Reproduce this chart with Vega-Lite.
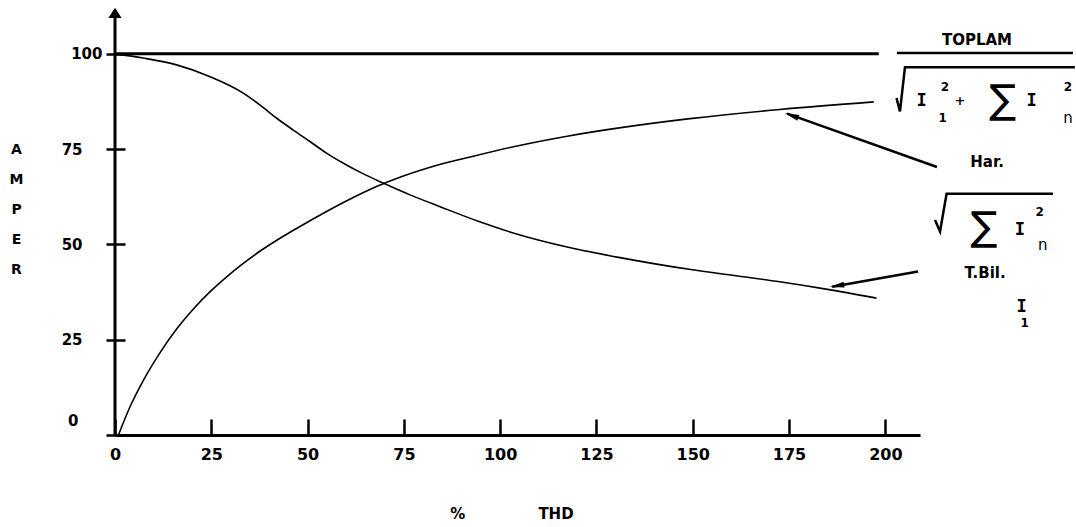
{
  "$schema": "https://vega.github.io/schema/vega-lite/v6.json",
  "width": 805,
  "height": 425,
  "autosize": {"type": "none"},
  "padding": {"left": 115, "top": 10, "right": 156, "bottom": 92},
  "background": "white",
  "config": {
    "view": {"stroke": null},
    "axis": {"labelFont": "DejaVu Sans", "labelFontWeight": "bold", "labelColor": "black", "tickColor": "black", "domainColor": "black", "titleColor": "black", "grid": false}
  },
  "resolve": {"axis": {"x": "independent", "y": "independent"}},
  "datasets": {
    "curves": [
      {"s": "Toplam", "thd": 0, "amp": 100}, {"s": "Toplam", "thd": 198.3, "amp": 100},
      {"s": "Har.", "thd": 0.9, "amp": 0}, {"s": "Har.", "thd": 3.9, "amp": 7.4}, {"s": "Har.", "thd": 7.3, "amp": 14.2}, {"s": "Har.", "thd": 11.7, "amp": 21.6}, {"s": "Har.", "thd": 16, "amp": 27.8}, {"s": "Har.", "thd": 20.3, "amp": 33}, {"s": "Har.", "thd": 24.7, "amp": 37.6}, {"s": "Har.", "thd": 29, "amp": 41.5}, {"s": "Har.", "thd": 33.3, "amp": 45}, {"s": "Har.", "thd": 37.6, "amp": 48.2}, {"s": "Har.", "thd": 42, "amp": 51.1}, {"s": "Har.", "thd": 50.6, "amp": 56.2}, {"s": "Har.", "thd": 59.3, "amp": 61}, {"s": "Har.", "thd": 67.9, "amp": 65.2}, {"s": "Har.", "thd": 81.6, "amp": 70.2}, {"s": "Har.", "thd": 92.5, "amp": 73}, {"s": "Har.", "thd": 104.7, "amp": 75.9}, {"s": "Har.", "thd": 117.4, "amp": 78.4}, {"s": "Har.", "thd": 131.8, "amp": 80.7}, {"s": "Har.", "thd": 149.3, "amp": 83}, {"s": "Har.", "thd": 172.6, "amp": 85.4}, {"s": "Har.", "thd": 197, "amp": 87.4},
      {"s": "T.Bil.", "thd": 0, "amp": 100}, {"s": "T.Bil.", "thd": 7.3, "amp": 98.9}, {"s": "T.Bil.", "thd": 16, "amp": 97.1}, {"s": "T.Bil.", "thd": 24.7, "amp": 94}, {"s": "T.Bil.", "thd": 33.3, "amp": 89.7}, {"s": "T.Bil.", "thd": 37.6, "amp": 86.6}, {"s": "T.Bil.", "thd": 42, "amp": 83.1}, {"s": "T.Bil.", "thd": 46.3, "amp": 80}, {"s": "T.Bil.", "thd": 50.6, "amp": 77}, {"s": "T.Bil.", "thd": 55, "amp": 73.9}, {"s": "T.Bil.", "thd": 59.3, "amp": 71.3}, {"s": "T.Bil.", "thd": 64.5, "amp": 68.5}, {"s": "T.Bil.", "thd": 69.6, "amp": 66.1}, {"s": "T.Bil.", "thd": 76.6, "amp": 63}, {"s": "T.Bil.", "thd": 84.4, "amp": 59.9}, {"s": "T.Bil.", "thd": 94.5, "amp": 56}, {"s": "T.Bil.", "thd": 104.7, "amp": 52.6}, {"s": "T.Bil.", "thd": 117.4, "amp": 49.3}, {"s": "T.Bil.", "thd": 131.8, "amp": 46.4}, {"s": "T.Bil.", "thd": 149.5, "amp": 43.4}, {"s": "T.Bil.", "thd": 161.2, "amp": 41.8}, {"s": "T.Bil.", "thd": 172.6, "amp": 40.2}, {"s": "T.Bil.", "thd": 185, "amp": 38.2}, {"s": "T.Bil.", "thd": 197.7, "amp": 35.9}
    ],
    "paths": [
      {"id": "bar", "o": 1, "x": 203, "y": 100.2}, {"id": "bar", "o": 2, "x": 248.7, "y": 100.2},
      {"id": "rad1", "o": 1, "x": 202.9, "y": 88.4}, {"id": "rad1", "o": 2, "x": 203.8, "y": 84.9}, {"id": "rad1", "o": 3, "x": 205.1, "y": 96.5}, {"id": "rad1", "o": 4, "x": 249.2, "y": 96.5},
      {"id": "rad2", "o": 1, "x": 212.9, "y": 56.4}, {"id": "rad2", "o": 2, "x": 214.2, "y": 53.4}, {"id": "rad2", "o": 3, "x": 215.9, "y": 63.3}, {"id": "rad2", "o": 4, "x": 243.5, "y": 63.3},
      {"id": "arrHar", "o": 1, "x": 213.4, "y": 70.3}, {"id": "arrHar", "o": 2, "x": 174.5, "y": 84.3},
      {"id": "arrTB", "o": 1, "x": 208.5, "y": 42.9}, {"id": "arrTB", "o": 2, "x": 186.2, "y": 38.9}
    ],
    "heads": [
      {"id": "arrHar", "x": 173.9, "y": 84.5},
      {"id": "arrTB", "x": 185.6, "y": 38.8},
      {"id": "yaxis", "x": 0, "y": 110.5}
    ],
    "ann": [
      {"r": "lbl", "t": "TOPLAM", "x": 223.8, "y": 103.7},
      {"r": "lbl", "t": "Har.", "x": 226.4, "y": 71.5},
      {"r": "lbl", "t": "T.Bil.", "x": 225.9, "y": 42.5},
      {"r": "lbl", "t": "%", "x": 89, "y": -20.7},
      {"r": "lbl", "t": "THD", "x": 114.5, "y": -20.7},
      {"r": "I", "t": "I", "x": 209.4, "y": 87.5},
      {"r": "I", "t": "I", "x": 238, "y": 87.5},
      {"r": "I", "t": "I", "x": 234.9, "y": 53.8},
      {"r": "I", "t": "I", "x": 235.4, "y": 33.7},
      {"r": "num", "t": "2", "x": 215.5, "y": 91.4},
      {"r": "num", "t": "1", "x": 214.9, "y": 83.2},
      {"r": "num", "t": "2", "x": 247.4, "y": 91.4},
      {"r": "num", "t": "2", "x": 240.1, "y": 58.6},
      {"r": "num", "t": "1", "x": 236.2, "y": 29.4},
      {"r": "n", "t": "n", "x": 247.4, "y": 83.2},
      {"r": "n", "t": "n", "x": 240.9, "y": 49.9},
      {"r": "plus", "t": "+", "x": 219.4, "y": 87.5},
      {"r": "sig", "t": "∑", "x": 230.5, "y": 87.7},
      {"r": "sig", "t": "∑", "x": 225.6, "y": 54.3}
    ]
  },
  "layer": [
    {
      "data": {"name": "curves"},
      "transform": [{"filter": "datum.s !== 'Toplam'"}],
      "mark": {"type": "line", "color": "black", "strokeWidth": 1.6, "interpolate": "monotone"},
      "encoding": {
        "x": {
          "field": "thd", "type": "quantitative",
          "scale": {"domain": [0, 209], "nice": false, "zero": false},
          "axis": {"values": [0, 25, 50, 75, 100, 125, 150, 175, 200], "tickSize": -16, "tickWidth": 2.5, "domainWidth": 3, "labelPadding": 27, "labelFontSize": 16, "labelFlush": false, "labelOverlap": false, "title": null}
        },
        "y": {
          "field": "amp", "type": "quantitative",
          "scale": {"domain": [0, 111.5], "nice": false},
          "axis": {
            "values": [0, 25, 50, 75, 100], "offset": -10, "tickSize": 19, "tickWidth": 2.5, "domain": false,
            "labelFontSize": 15, "labelFlush": false, "labelOverlap": false,
            "labelPadding": {"condition": [{"test": "datum.value === 100", "value": 4}, {"test": "datum.value === 0", "value": 28}], "value": 24},
            "labelOffset": {"condition": {"test": "datum.value === 0", "value": -15}, "value": 0},
            "title": ["A", "M", "P", "E", "R"], "titleAngle": 0, "titleX": -109, "titleY": 132, "titleBaseline": "top", "titleAlign": "center",
            "titleLineHeight": 30, "titleFont": "DejaVu Sans", "titleFontSize": 14, "titleFontWeight": "bold"
          }
        },
        "detail": {"field": "s"}
      }
    },
    {
      "data": {"name": "curves"},
      "transform": [{"filter": "datum.s === 'Toplam'"}],
      "mark": {"type": "line", "color": "black", "strokeWidth": 3},
      "encoding": {
        "x": {"field": "thd", "type": "quantitative", "axis": null},
        "y": {"field": "amp", "type": "quantitative", "axis": null}
      }
    },
    {
      "data": {"values": [{"axis": "y"}]},
      "mark": {"type": "rule", "color": "black", "strokeWidth": 3},
      "encoding": {"x": {"datum": 0, "type": "quantitative", "axis": null}}
    },
    {
      "data": {"name": "paths"},
      "mark": {"type": "line", "color": "black", "strokeWidth": 2.5},
      "encoding": {
        "x": {"field": "x", "type": "quantitative", "axis": null},
        "y": {"field": "y", "type": "quantitative", "axis": null},
        "detail": {"field": "id"},
        "order": {"field": "o"}
      }
    },
    {
      "data": {"name": "heads"},
      "transform": [{"filter": "datum.id === 'arrHar'"}],
      "mark": {"type": "point", "shape": "M0,0L0.5,2.4L-0.5,2.4Z", "size": 144, "filled": true, "color": "black", "opacity": 1, "angle": 290},
      "encoding": {
        "x": {"field": "x", "type": "quantitative", "axis": null},
        "y": {"field": "y", "type": "quantitative", "axis": null}
      }
    },
    {
      "data": {"name": "heads"},
      "transform": [{"filter": "datum.id === 'arrTB'"}],
      "mark": {"type": "point", "shape": "M0,0L0.5,2.4L-0.5,2.4Z", "size": 144, "filled": true, "color": "black", "opacity": 1, "angle": 260},
      "encoding": {
        "x": {"field": "x", "type": "quantitative", "axis": null},
        "y": {"field": "y", "type": "quantitative", "axis": null}
      }
    },
    {
      "data": {"name": "heads"},
      "transform": [{"filter": "datum.id === 'yaxis'"}],
      "mark": {"type": "point", "shape": "M0,-1L1.1,0.7L-1.1,0.7Z", "size": 144, "filled": true, "color": "black", "opacity": 1},
      "encoding": {
        "x": {"field": "x", "type": "quantitative", "axis": null},
        "y": {"field": "y", "type": "quantitative", "axis": null}
      }
    },
    {
      "data": {"name": "ann"},
      "transform": [{"filter": "datum.r === 'lbl'"}],
      "mark": {"type": "text", "font": "DejaVu Sans", "fontWeight": "bold", "fontSize": 15, "color": "black", "align": "center", "baseline": "middle"},
      "encoding": {
        "x": {"field": "x", "type": "quantitative", "axis": null},
        "y": {"field": "y", "type": "quantitative", "axis": null},
        "text": {"field": "t"}
      }
    },
    {
      "data": {"name": "ann"},
      "transform": [{"filter": "datum.r === 'I'"}],
      "mark": {"type": "text", "font": "DejaVu Sans Mono", "fontWeight": "bold", "fontSize": 17, "color": "black", "align": "center", "baseline": "middle"},
      "encoding": {
        "x": {"field": "x", "type": "quantitative", "axis": null},
        "y": {"field": "y", "type": "quantitative", "axis": null},
        "text": {"field": "t"}
      }
    },
    {
      "data": {"name": "ann"},
      "transform": [{"filter": "datum.r === 'num'"}],
      "mark": {"type": "text", "font": "DejaVu Sans", "fontWeight": "bold", "fontSize": 12, "color": "black", "align": "center", "baseline": "middle"},
      "encoding": {
        "x": {"field": "x", "type": "quantitative", "axis": null},
        "y": {"field": "y", "type": "quantitative", "axis": null},
        "text": {"field": "t"}
      }
    },
    {
      "data": {"name": "ann"},
      "transform": [{"filter": "datum.r === 'n'"}],
      "mark": {"type": "text", "font": "DejaVu Sans", "fontSize": 15, "color": "black", "align": "center", "baseline": "middle"},
      "encoding": {
        "x": {"field": "x", "type": "quantitative", "axis": null},
        "y": {"field": "y", "type": "quantitative", "axis": null},
        "text": {"field": "t"}
      }
    },
    {
      "data": {"name": "ann"},
      "transform": [{"filter": "datum.r === 'plus'"}],
      "mark": {"type": "text", "font": "DejaVu Sans", "fontWeight": "bold", "fontSize": 13, "color": "black", "align": "center", "baseline": "middle"},
      "encoding": {
        "x": {"field": "x", "type": "quantitative", "axis": null},
        "y": {"field": "y", "type": "quantitative", "axis": null},
        "text": {"field": "t"}
      }
    },
    {
      "data": {"name": "ann"},
      "transform": [{"filter": "datum.r === 'sig'"}],
      "mark": {"type": "text", "font": "DejaVu Sans", "fontSize": 40, "color": "black", "align": "center", "baseline": "middle"},
      "encoding": {
        "x": {"field": "x", "type": "quantitative", "axis": null},
        "y": {"field": "y", "type": "quantitative", "axis": null},
        "text": {"field": "t"}
      }
    }
  ]
}
